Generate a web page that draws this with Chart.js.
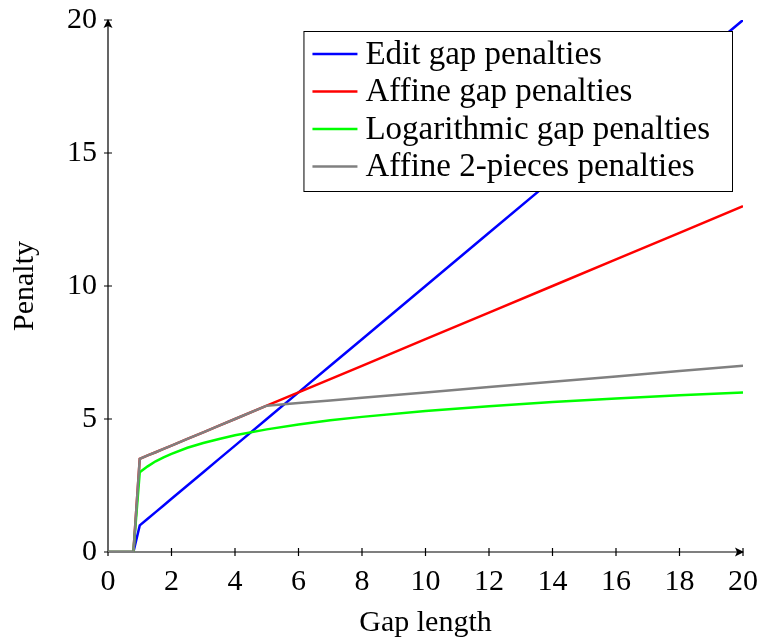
<!DOCTYPE html>
<html>
<head>
<meta charset="utf-8">
<script src="https://cdn.jsdelivr.net/npm/chart.js@4.4.1/dist/chart.umd.min.js"></script>
<style>
  html, body { margin: 0; padding: 0; background: #fff; }
  #wrap { width: 761px; height: 639px; }
</style>
</head>
<body>
<div id="wrap"><canvas id="grafica"></canvas></div>
<script>
// Longitud del hueco (eje x) y penalizaciones
const gapLength = [0, 0.8, 1, 1.25, 1.5, 1.75, 2, 2.5, 3, 3.5, 4, 5, 6, 7, 8, 10, 12, 14, 16, 18, 20];
const editGap   = [0, 0, 1, 1.25, 1.5, 1.75, 2, 2.5, 3, 3.5, 4, 5, 6, 7, 8, 10, 12, 14, 16, 18, 20];
const affineGap = [0, 0, 3.5, 3.63, 3.75, 3.88, 4, 4.25, 4.5, 4.75, 5, 5.5, 6, 6.5, 7, 8, 9, 10, 11, 12, 13];
const logGap    = [0, 0, 3, 3.22, 3.41, 3.56, 3.69, 3.92, 4.1, 4.25, 4.39, 4.61, 4.79, 4.95, 5.08, 5.3, 5.48, 5.64, 5.77, 5.89, 6];
const affine2   = [0, 0, 3.5, 3.63, 3.75, 3.88, 4, 4.25, 4.5, 4.75, 5, 5.5, 5.6, 5.7, 5.8, 6, 6.2, 6.4, 6.6, 6.8, 7];

const labels = ['Edit gap penalties', 'Affine gap penalties', 'Logarithmic gap penalties', 'Affine 2-pieces penalties'];
const colores = ['#0000ff', '#ff0000', '#00ff00', '#808080'];
const series = [editGap, affineGap, logGap, affine2];

const FONT = '"Liberation Serif", "Times New Roman", serif';

// Ejes con flechas y marcas a ambos lados (estilo pgfplots)
const ejes = {
    id: 'ejes',
    beforeDatasetsDraw(chart) {
        const ctx = chart.ctx;
        const a = chart.chartArea;
        const xs = chart.scales.x, ys = chart.scales.y;
        ctx.save();
        ctx.strokeStyle = '#000';
        ctx.fillStyle = '#000';
        ctx.lineWidth = 1.2;
        ctx.beginPath();
        ctx.moveTo(a.left, a.bottom); ctx.lineTo(a.right, a.bottom);
        ctx.moveTo(a.left, a.bottom); ctx.lineTo(a.left, a.top);
        // marcas
        xs.ticks.forEach(t => {
            const px = xs.getPixelForValue(t.value);
            ctx.moveTo(px, a.bottom - 4); ctx.lineTo(px, a.bottom + 4);
        });
        ys.ticks.forEach(t => {
            const py = ys.getPixelForValue(t.value);
            ctx.moveTo(a.left - 4, py); ctx.lineTo(a.left + 4, py);
        });
        ctx.stroke();
        // flechas
        ctx.beginPath();
        ctx.moveTo(a.right + 1, a.bottom);
        ctx.lineTo(a.right - 8, a.bottom - 4.5);
        ctx.lineTo(a.right - 6, a.bottom);
        ctx.lineTo(a.right - 8, a.bottom + 4.5);
        ctx.closePath();
        ctx.moveTo(a.left, a.top - 1);
        ctx.lineTo(a.left - 4.5, a.top + 8);
        ctx.lineTo(a.left, a.top + 6);
        ctx.lineTo(a.left + 4.5, a.top + 8);
        ctx.closePath();
        ctx.fill();
        ctx.restore();
    }
};

// Leyenda en un recuadro dentro del área del gráfico
const leyenda = {
    id: 'leyenda',
    afterDatasetsDraw(chart) {
        const ctx = chart.ctx;
        const a = chart.chartArea;
        const ds = chart.data.datasets;
        ctx.save();
        ctx.font = '33px ' + FONT;
        let maxW = 0;
        ds.forEach(d => { maxW = Math.max(maxW, ctx.measureText(d.label).width); });
        const rowH = 37.5;
        const w = 62 + maxW + 22;
        const h = ds.length * rowH + 10;
        const right = a.right - 11;
        const top = a.top + 11;
        const left = right - w;
        ctx.fillStyle = '#fff';
        ctx.fillRect(left, top, w, h);
        ctx.strokeStyle = '#000';
        ctx.lineWidth = 1;
        ctx.strokeRect(left + 0.5, top + 0.5, w, h);
        ds.forEach((d, i) => {
            const cy = top + 23 + i * rowH;
            ctx.strokeStyle = d.borderColor;
            ctx.lineWidth = 2.4;
            ctx.beginPath();
            ctx.moveTo(left + 9, cy); ctx.lineTo(left + 54, cy);
            ctx.stroke();
            ctx.fillStyle = '#000';
            ctx.textBaseline = 'middle';
            ctx.fillText(d.label, left + 62, cy + 1);
        });
        ctx.restore();
    }
};

function sinRelleno(s) {
    s.paddingLeft = 0; s.paddingRight = 0; s.paddingTop = 0; s.paddingBottom = 0;
}

new Chart(document.getElementById('grafica'), {
    type: 'line',
    data: {
        labels: gapLength,
        datasets: series.map((s, i) => ({
            label: labels[i],
            data: s.map((v, j) => ({ x: gapLength[j], y: v })),
            borderColor: colores[i],
            backgroundColor: colores[i],
            borderWidth: 2.5,
            pointRadius: 0,
            fill: false,
            tension: 0,
            order: series.length - i
        }))
    },
    options: {
        responsive: true,
        maintainAspectRatio: false,
        animation: false,
        events: [],
        layout: { padding: { top: 20, right: 18, left: 0, bottom: 0 } },
        plugins: { legend: { display: false }, tooltip: { enabled: false } },
        scales: {
            x: {
                type: 'linear', min: 0, max: 20,
                grid: { display: false, drawTicks: false },
                border: { display: false },
                ticks: { stepSize: 2, padding: 12, color: '#000', font: { family: FONT, size: 30 } },
                title: { display: true, text: 'Gap length', color: '#000', padding: 0, font: { family: FONT, size: 30, lineHeight: 1.05 } },
                afterFit(s) { s.height = 87; sinRelleno(s); }
            },
            y: {
                min: 0, max: 20,
                grid: { display: false, drawTicks: false },
                border: { display: false },
                ticks: { stepSize: 5, padding: 11, color: '#000', font: { family: FONT, size: 30 } },
                title: { display: true, text: 'Penalty', color: '#000', padding: { top: 7, bottom: 0 }, font: { family: FONT, size: 30 } },
                afterFit(s) { s.width = 108; sinRelleno(s); }
            }
        }
    },
    plugins: [ejes, leyenda]
});
</script>
</body>
</html>
